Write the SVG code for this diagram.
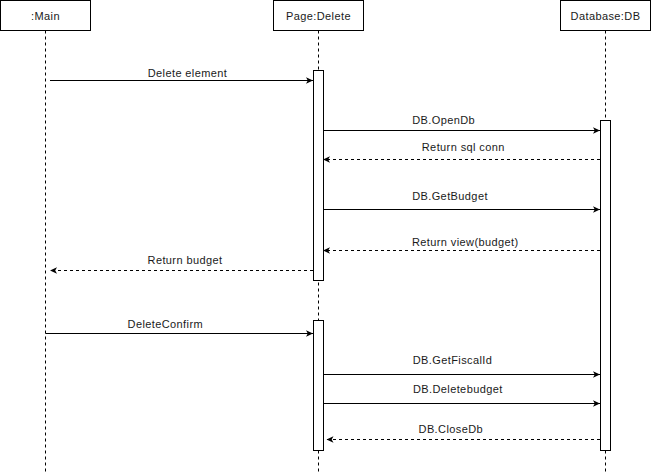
<svg xmlns="http://www.w3.org/2000/svg" width="651" height="473" viewBox="0 0 651 473">
  <defs>
    <style>
      .box { fill: #ffffff; stroke: #000000; stroke-width: 1; }
      .life { fill: none; stroke: #000000; stroke-width: 1; stroke-dasharray: 3 3; }
      .act { fill: #ffffff; stroke: #000000; stroke-width: 1; }
      .msg { fill: none; stroke: #000000; stroke-width: 1; marker-end: url(#head); }
      .ret { stroke-dasharray: 3 3; }
      text { font-family: "Liberation Sans", Arial, sans-serif; font-size: 11px; fill: #1a1a1a; letter-spacing: 0.4px; text-anchor: middle; }
    </style>
    <!-- filled "classic" arrowhead with a small notch -->
    <marker id="head" viewBox="0 0 8 8" refX="7" refY="4" markerWidth="8" markerHeight="8" markerUnits="userSpaceOnUse" orient="auto">
      <path d="M0,0.8 L7,4 L0,7.2 L1.8,4 Z" fill="#000000"/>
    </marker>
  </defs>

  <!-- participants with lifelines -->
  <g id="main">
    <line class="life" x1="45.5" y1="30.5" x2="45.5" y2="473"/>
    <rect class="box" x="0.5" y="0.5" width="90" height="30"/>
    <text x="45.5" y="19.5">:Main</text>
  </g>

  <g id="page-delete">
    <line class="life" x1="318.5" y1="30.5" x2="318.5" y2="473"/>
    <rect class="box" x="273.5" y="0.5" width="90" height="30"/>
    <text x="318.5" y="19.5">Page:Delete</text>
    <rect class="act" x="313.5" y="70.5" width="10" height="210"/>
    <rect class="act" x="313.5" y="320.5" width="10" height="130"/>
  </g>

  <g id="database-db">
    <line class="life" x1="605.5" y1="30.5" x2="605.5" y2="473"/>
    <rect class="box" x="560.5" y="0.5" width="90" height="30"/>
    <text x="605.5" y="19.5">Database:DB</text>
    <rect class="act" x="600.5" y="120.5" width="10" height="330"/>
  </g>

  <!-- messages -->
  <g id="connectors">
    <line class="msg" x1="50" y1="80.5" x2="313" y2="80.5"/>
    <text x="187.5" y="77">Delete element</text>

    <line class="msg" x1="324" y1="130.5" x2="600" y2="130.5"/>
    <text x="443.7" y="124.3">DB.OpenDb</text>

    <line class="msg ret" x1="600" y1="159.5" x2="323" y2="159.5"/>
    <text x="463.3" y="150.5">Return sql conn</text>

    <line class="msg" x1="324" y1="209.5" x2="600" y2="209.5"/>
    <text x="450" y="200">DB.GetBudget</text>

    <line class="msg ret" x1="600" y1="250.5" x2="323" y2="250.5"/>
    <text x="465.3" y="245.5">Return view(budget)</text>

    <line class="msg ret" x1="313" y1="270.5" x2="50" y2="270.5"/>
    <text x="185" y="264.3">Return budget</text>

    <line class="msg" x1="45.5" y1="333.5" x2="313" y2="333.5"/>
    <text x="165.3" y="327.7">DeleteConfirm</text>

    <line class="msg" x1="324" y1="374.5" x2="600" y2="374.5"/>
    <text x="452.5" y="364.3">DB.GetFiscalId</text>

    <line class="msg" x1="324" y1="403.5" x2="600" y2="403.5"/>
    <text x="457.8" y="393.3">DB.Deletebudget</text>

    <line class="msg ret" x1="600" y1="439.5" x2="326.5" y2="439.5"/>
    <text x="450.8" y="433.3">DB.CloseDb</text>
  </g>
</svg>
